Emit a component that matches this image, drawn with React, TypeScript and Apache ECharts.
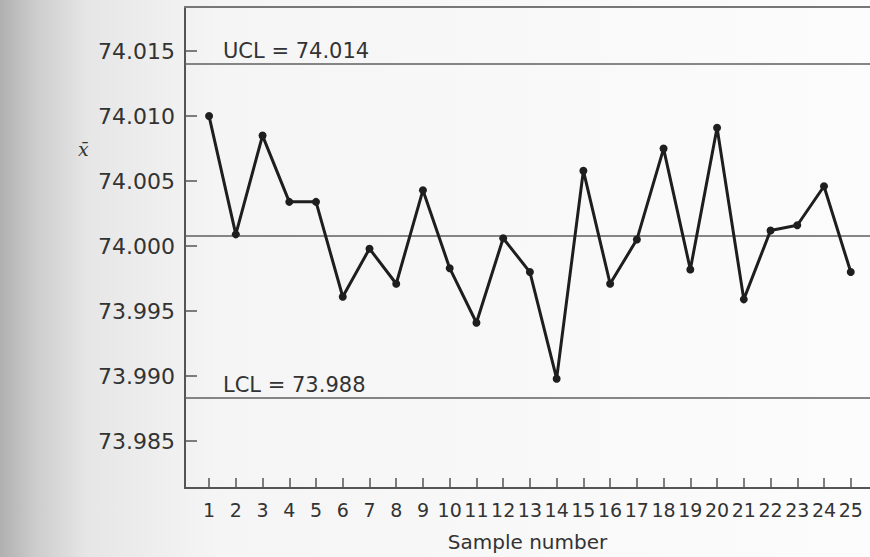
import React, { useEffect, useRef } from "react";
import * as echarts from "echarts";

const samples = Array.from({ length: 25 }, (_, i) => i + 1);
const xbar = [
  74.0100, 74.0009, 74.0085, 74.0034, 74.0034, 73.9961, 73.9998, 73.9971, 74.0043,
  73.9983, 73.9941, 74.0006, 73.9980, 73.9898, 74.0058, 73.9971, 74.0005, 74.0075,
  73.9982, 74.0091, 73.9959, 74.0012, 74.0016, 74.0046, 73.9980,
];
const yTicks = [73.985, 73.99, 73.995, 74.0, 74.005, 74.01, 74.015];
const UCL = 74.014;
const CL = 74.0008;
const LCL = 73.9883;
const uclLabel = "UCL = 74.014";
const lclLabel = "LCL = 73.988";

const FONT = "DejaVu Sans";
const TXT = "#333333";
const AX = "#555555";

export default function App() {
  const ref = useRef<HTMLDivElement>(null);
  useEffect(() => {
    if (!ref.current) return;
    const chart = echarts.init(ref.current, null, { renderer: "svg" });
    const ctrlLabel = (text: string) => ({
      show: true,
      position: "insideStartTop",
      formatter: text,
      distance: [38, 3],
      color: TXT,
      fontFamily: FONT,
      fontSize: 21,
    });
    chart.setOption({
      animation: false,
      backgroundColor: {
        type: "linear",
        x: 0, y: 0, x2: 1, y2: 0,
        colorStops: [
          { offset: 0, color: "#b0b0b0" },
          { offset: 0.04, color: "#cccccc" },
          { offset: 0.1, color: "#e6e6e6" },
          { offset: 0.25, color: "#f5f5f5" },
          { offset: 1, color: "#fcfcfc" },
        ],
      },
      grid: { left: 185, right: 0, top: 7, bottom: 69, containLabel: false },
      xAxis: [
        {
          type: "value",
          min: 0.1,
          max: 25.72,
          axisLine: { show: true, lineStyle: { color: AX, width: 2 } },
          axisTick: {
            show: true,
            inside: true,
            length: 10,
            customValues: samples,
            lineStyle: { color: AX, width: 1.5 },
          },
          axisLabel: {
            customValues: samples,
            margin: 12,
            color: TXT,
            fontFamily: FONT,
            fontSize: 19,
          },
          splitLine: { show: false },
          name: "Sample number",
          nameLocation: "middle",
          nameGap: 44,
          nameTextStyle: { color: TXT, fontFamily: FONT, fontSize: 20 },
        },
        {
          type: "value",
          position: "top",
          min: 0.1,
          max: 25.72,
          axisLine: { show: true, lineStyle: { color: "#777777", width: 2 } },
          axisTick: { show: false },
          axisLabel: { show: false },
          splitLine: { show: false },
        },
      ],
      yAxis: {
        type: "value",
        min: 73.98139,
        max: 74.01839,
        axisLine: { show: true, lineStyle: { color: AX, width: 2 } },
        axisTick: {
          show: true,
          inside: true,
          length: 12,
          customValues: yTicks,
          lineStyle: { color: AX, width: 1.5 },
        },
        axisLabel: {
          customValues: yTicks,
          margin: 10,
          color: TXT,
          fontFamily: FONT,
          fontSize: 22,
          formatter: (v: number) => v.toFixed(3),
        },
        splitLine: { show: false },
      },
      graphic: [
        {
          type: "text",
          left: 78,
          top: 139,
          style: {
            text: "x̄",
            fill: TXT,
            font: "italic 19px 'DejaVu Serif'",
          },
        },
      ],
      series: [
        {
          type: "line",
          data: samples.map((s, i) => [s, xbar[i]]),
          symbol: "circle",
          symbolSize: 8,
          lineStyle: { color: "#1e1e1e", width: 3 },
          itemStyle: { color: "#1e1e1e" },
          z: 5,
          markLine: {
            silent: true,
            symbol: "none",
            precision: 5,
            lineStyle: { color: "#5f5f5f", width: 1.6, type: "solid" },
            data: [
              { yAxis: UCL, label: ctrlLabel(uclLabel) },
              { yAxis: CL, label: { show: false } },
              { yAxis: LCL, label: ctrlLabel(lclLabel) },
            ],
          },
        },
      ],
    });
    return () => chart.dispose();
  }, []);
  return (
    <div
      ref={ref}
      style={{ position: "fixed", left: 0, top: 0, width: 870, height: 557 }}
    />
  );
}
